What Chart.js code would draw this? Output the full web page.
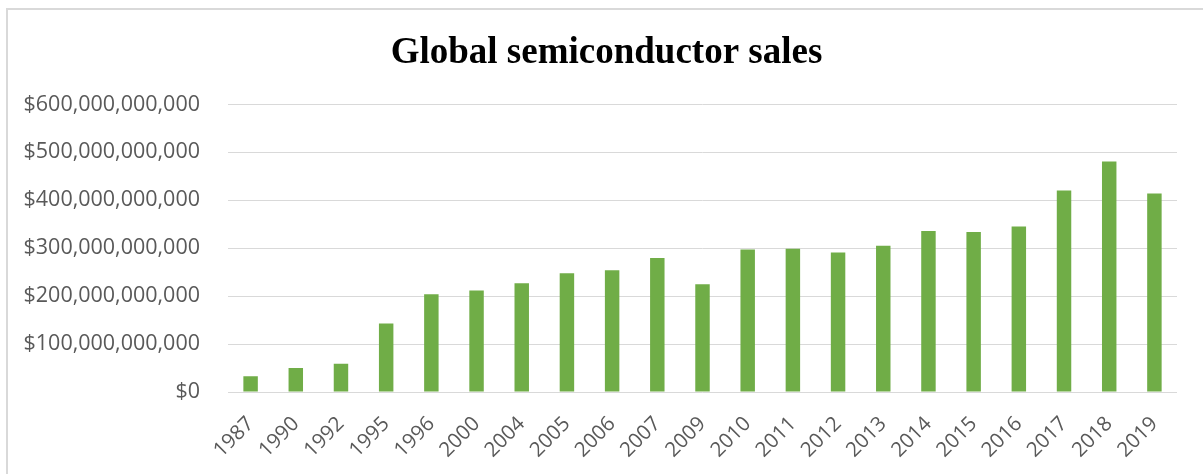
<!DOCTYPE html>
<html>
<head>
<meta charset="utf-8">
<script src="https://cdn.jsdelivr.net/npm/chart.js@4/dist/chart.umd.min.js"></script>
<style>
    html, body { margin: 0; padding: 0; background: #fff; }
    #wrap { width: 1203px; height: 474px; position: relative; }
</style>
</head>
<body>
<div id="wrap"><canvas id="chart" width="1203" height="474"></canvas></div>
<script>
// values
const years = ['1987', '1990', '1992', '1995', '1996', '2000', '2004', '2005', '2006', '2007',
    '2009', '2010', '2011', '2012', '2013', '2014', '2015', '2016', '2017', '2018', '2019'];
const sales = [33e9, 50e9, 59e9, 143e9, 204e9, 212e9, 227e9, 247.5e9, 254e9, 279.5e9,
    225e9, 297.5e9, 299e9, 291e9, 305e9, 336e9, 334e9, 345.5e9, 420.5e9, 481e9, 414e9];
const yTicks = [0, 100e9, 200e9, 300e9, 400e9, 500e9, 600e9];

const gray = '#595959';
const gridGray = '#d9d9d9';

// white background and the thin frame round the chart
let frame = {
    id: 'frame',
    beforeDraw: function(chart) {
        let ctx = chart.ctx;
        ctx.save();
        ctx.fillStyle = '#fff';
        ctx.fillRect(0, 0, chart.width, chart.height);
        ctx.strokeStyle = gridGray;
        ctx.lineWidth = 2;
        ctx.strokeRect(7, 9, chart.width + 10, chart.height + 10);
        ctx.restore();
    }
};

let ctx = document.getElementById('chart').getContext('2d');
new Chart(ctx, {
    type: 'bar',
    data: {
        labels: years,
        datasets: [{
            label: 'Sales',
            data: sales,
            backgroundColor: '#70ad47',
            borderWidth: 0,
            barPercentage: 0.32,
            categoryPercentage: 1,
        }]
    },
    options: {
        responsive: false,
        animation: false,
        layout: {
            padding: { left: 10, right: 0, top: 0, bottom: 0 }
        },
        plugins: {
            legend: { display: false },
            tooltip: { enabled: false },
            title: {
                display: true,
                text: 'Global semiconductor sales',
                color: '#000',
                font: { family: '"Liberation Serif", "Times New Roman", serif', size: 37, weight: 'bold', lineHeight: 1.2 },
                padding: { top: 31, bottom: 29 }
            }
        },
        scales: {
            x: {
                grid: { display: false, drawTicks: false },
                border: { display: false },
                ticks: {
                    color: gray,
                    font: { family: '"Open Sans", sans-serif', size: 20.5 },
                    minRotation: 45,
                    maxRotation: 45,
                    autoSkip: false,
                    padding: 20
                },
                afterFit: function(scale) { scale.height = 82; }
            },
            y: {
                min: 0,
                max: 600e9,
                afterBuildTicks: function(scale) {
                    scale.ticks = yTicks.map((v) => ({ value: v }));
                },
                grid: { color: gridGray, lineWidth: 1, drawTicks: false },
                border: { display: false },
                ticks: {
                    color: gray,
                    font: { family: '"Open Sans", sans-serif', size: 21.5 },
                    padding: 28,
                    callback: function(v) { return '$' + v.toLocaleString('en-US'); }
                },
                afterFit: function(scale) { scale.width = 218; }
            },
            // empty right-hand axis, only keeps the white margin on the right
            yRight: {
                position: 'right',
                grid: { display: false },
                border: { display: false },
                ticks: { display: false },
                afterFit: function(scale) { scale.width = 26; }
            }
        }
    },
    plugins: [frame]
});
</script>
</body>
</html>
